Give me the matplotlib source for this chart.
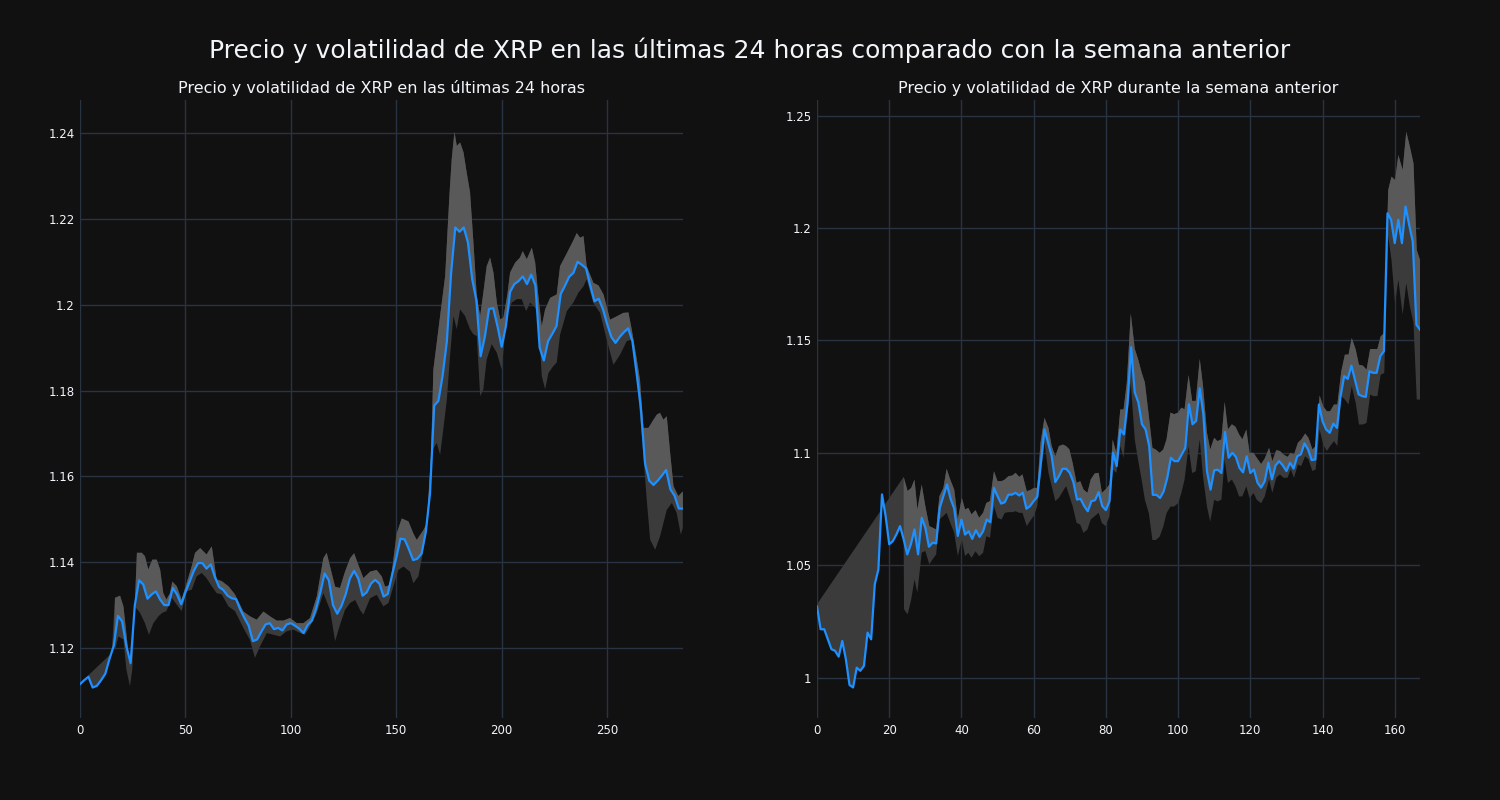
import numpy as np
import matplotlib
matplotlib.use("Agg")
import matplotlib.pyplot as plt
from matplotlib.ticker import FuncFormatter

# ---------------- last 24 hours (5 min steps, every 2nd point read) ----------------
day_x = list(range(0, 287, 2))
day_price = [
    1.1116, 1.1125, 1.1133, 1.1108, 1.1112, 1.1125, 1.1140, 1.1175, 1.1205, 1.1275,
    1.1262, 1.1204, 1.1165, 1.1300, 1.1358, 1.1348, 1.1315, 1.1325, 1.1332, 1.1313,
    1.1300, 1.1300, 1.1340, 1.1325, 1.1302, 1.1330, 1.1355, 1.1380, 1.1398, 1.1398,
    1.1385, 1.1395, 1.1365, 1.1342, 1.1335, 1.1322, 1.1316, 1.1314, 1.1290, 1.1270,
    1.1252, 1.1216, 1.1220, 1.1238, 1.1255, 1.1258, 1.1244, 1.1247, 1.1241, 1.1255,
    1.1258, 1.1252, 1.1245, 1.1235, 1.1254, 1.1264, 1.1292, 1.1330, 1.1374, 1.1358,
    1.1300, 1.1280, 1.1298, 1.1325, 1.1362, 1.1380, 1.1362, 1.1322, 1.1330, 1.1350,
    1.1359, 1.1350, 1.1320, 1.1326, 1.1370, 1.1410, 1.1455, 1.1453, 1.1430, 1.1405,
    1.1408, 1.1420, 1.1470, 1.1560, 1.1765, 1.1776, 1.1835, 1.1915, 1.2073, 1.2180,
    1.2170, 1.2180, 1.2145, 1.2060, 1.2010, 1.1880, 1.1925, 1.1990, 1.1992, 1.1950,
    1.1902, 1.1950, 1.2030, 1.2048, 1.2055, 1.2066, 1.2048, 1.2070, 1.2045, 1.1900,
    1.1870, 1.1915, 1.1932, 1.1950, 1.2025, 1.2044, 1.2065, 1.2074, 1.2100, 1.2093,
    1.2085, 1.2045, 1.2008, 1.2014, 1.1990, 1.1955, 1.1925, 1.1911, 1.1925, 1.1936,
    1.1945, 1.1915, 1.1840, 1.1760, 1.1630, 1.1590, 1.1580, 1.1590, 1.1602, 1.1615,
    1.1570, 1.1555, 1.1525, 1.1525]

day_up_x = [0, 15, 16.6, 19, 20.6, 22, 23.7, 25.3, 27, 29.3, 30.8, 32.4, 34.3, 36.4, 38,
            39.5, 41, 42.7, 43.8, 45.9, 48.2, 50.6, 53, 54.6, 57, 60, 62.5, 64.8, 67.2, 70.4,
            73.5, 77.5, 80.6, 83.8, 87, 90.1, 93.3, 96.5, 99.6, 102.8, 106, 109.1, 112.3, 115.4,
            117, 118.6, 121, 123.3, 125.7, 128.1, 130, 132, 134.4, 137.6, 140.7, 143.1, 144.7,
            147.1, 150.2, 152.6, 155.8, 158.1, 159.7, 162.9, 164.5, 166.5, 167.6, 170.8, 173.2,
            175.2, 176.3, 177.6, 178.7, 180.3, 181.9, 183.4, 185, 186.6, 188.2, 189.8, 191.3,
            192.9, 194.5, 196.1, 197.7, 199.3, 200.8, 202.7, 204, 206.4, 208.7, 210, 211.9,
            214.3, 215.9, 217.4, 219, 220.6, 223, 226.1, 227.7, 230.9, 234, 235.6, 237.2, 238.8,
            240.3, 243.5, 245.9, 248.3, 251.4, 254.6, 257.7, 260.1, 261.7, 264.1, 265.6, 267.2,
            269.6, 272, 273.6, 275.1, 276.7, 278.3, 279.9, 281.5, 283.8, 285.9]
day_up_y = [1.1118, 1.1188, 1.1317, 1.1322, 1.1297, 1.1234, 1.1148, 1.1218, 1.1422, 1.1422,
            1.1414, 1.1383, 1.1406, 1.1406, 1.1383, 1.1328, 1.1313, 1.1328, 1.1355, 1.1344,
            1.1313, 1.1352, 1.1391, 1.1422, 1.1433, 1.1418, 1.1437, 1.1360, 1.1356, 1.1344,
            1.1325, 1.1285, 1.1274, 1.1266, 1.1285, 1.1274, 1.1264, 1.1264, 1.1270, 1.1258,
            1.1258, 1.1270, 1.1320, 1.1409, 1.1422, 1.1390, 1.1343, 1.1340, 1.1378, 1.1409,
            1.1421, 1.1394, 1.1363, 1.1378, 1.1382, 1.1367, 1.1343, 1.1347, 1.1467, 1.1502,
            1.1495, 1.1467, 1.1452, 1.1475, 1.1491, 1.1650, 1.1849, 1.1974, 1.2067, 1.2254,
            1.2339, 1.2403, 1.2370, 1.2378, 1.2355, 1.2308, 1.2262, 1.2145, 1.2020, 1.1974,
            1.2028, 1.2090, 1.2110, 1.2075, 1.2005, 1.1966, 1.1970, 1.2024, 1.2075, 1.2098,
            1.2110, 1.2125, 1.2106, 1.2133, 1.2098, 1.2020, 1.1950, 1.1989, 1.2016, 1.2024,
            1.2090, 1.2120, 1.2150, 1.2167, 1.2156, 1.2160, 1.2090, 1.2051, 1.2045, 1.2024,
            1.1965, 1.1973, 1.1981, 1.1982, 1.1942, 1.1872, 1.1825, 1.1713, 1.1713, 1.1732,
            1.1744, 1.1748, 1.1732, 1.1740, 1.1655, 1.1577, 1.1554, 1.1565]

day_lo_x = [16.6, 18.2, 20.6, 22, 23.7, 24.8, 26, 28.5, 30.8, 32.7, 34.8, 37.2, 39, 41, 43.5,
            45.9, 48.2, 50.6, 53, 55.3, 57.7, 60, 62.5, 64.8, 67.2, 70.4, 73.5, 77.5, 80.6, 83,
            85.4, 88.6, 91.7, 94.9, 98, 101.2, 104.4, 106.7, 109.1, 112.3, 115.4, 118.6, 121,
            123.3, 125.7, 128.1, 130.5, 132.8, 134.4, 137.6, 140.7, 143.9, 146.3, 148.6, 151,
            153.4, 156.5, 158.1, 160.5, 162.9, 165.2, 167, 169.2, 170.8, 172.3, 174, 175.5,
            177.1, 178.7, 180.3, 182.6, 185, 186.6, 188.2, 189.8, 191.3, 192.9, 195.3, 197.7,
            200, 202.4, 204.8, 207.2, 209.5, 211.6, 213.5, 215.9, 217.4, 219, 220.6, 222.2,
            224.5, 226.1, 227.7, 230.9, 234, 236.4, 238.8, 240.3, 243.5, 246.7, 249.8, 253,
            256.2, 259.3, 261.7, 264.1, 266.4, 268.8, 270.4, 272.8, 275.1, 278.3, 280.7, 283,
            285, 285.9]
day_lo_y = [1.1196, 1.1227, 1.1220, 1.1150, 1.1111, 1.1150, 1.1297, 1.1282, 1.1258, 1.1231,
            1.1258, 1.1274, 1.1282, 1.1286, 1.1317, 1.1301, 1.1286, 1.1332, 1.1336, 1.1367,
            1.1375, 1.1363, 1.1344, 1.1328, 1.1325, 1.1297, 1.1286, 1.1247, 1.1219, 1.1177,
            1.1204, 1.1235, 1.1231, 1.1227, 1.1239, 1.1243, 1.1235, 1.1231, 1.1250, 1.1281,
            1.1328, 1.1289, 1.1216, 1.1254, 1.1289, 1.1305, 1.1312, 1.1289, 1.1278, 1.1316,
            1.1324, 1.1297, 1.1305, 1.1343, 1.1382, 1.1390, 1.1378, 1.1351, 1.1367, 1.1429,
            1.1506, 1.1660, 1.1678, 1.1650, 1.1709, 1.1779, 1.1880, 1.1974, 1.1943, 1.1989,
            1.1974, 1.1943, 1.1931, 1.1927, 1.1787, 1.1803, 1.1873, 1.1908, 1.1888, 1.1849,
            1.1974, 1.2005, 1.2013, 1.2013, 1.1985, 1.2005, 1.1993, 1.1974, 1.1834, 1.1803,
            1.1841, 1.1857, 1.1865, 1.1930, 1.1985, 1.2005, 1.2028, 1.2043, 1.2059, 1.2004,
            1.1981, 1.1919, 1.1860, 1.1884, 1.1915, 1.1919, 1.1825, 1.1701, 1.1546, 1.1453,
            1.1429, 1.1460, 1.1522, 1.1538, 1.1515, 1.1464, 1.1480]

# ---------------- previous week (hourly) ----------------
week_x = list(range(0, 168))
week_price = [
    1.0316, 1.0215, 1.0215, 1.0170, 1.0126, 1.0119, 1.0093, 1.0163, 1.0081, 0.9967,
    0.9956, 1.0044, 1.0030, 1.0052, 1.0200, 1.0170, 1.0415, 1.0481, 1.0815, 1.0719,
    1.0593, 1.0607, 1.0637, 1.0674, 1.0615, 1.0548, 1.0593, 1.0659, 1.0548, 1.0711,
    1.0667, 1.0582, 1.0600, 1.0597, 1.0756, 1.0807, 1.0859, 1.0795, 1.0752, 1.0630,
    1.0703, 1.0636, 1.0651, 1.0617, 1.0656, 1.0626, 1.0651, 1.0703, 1.0691, 1.0844,
    1.0807, 1.0774, 1.0780, 1.0814, 1.0814, 1.0822, 1.0810, 1.0822, 1.0751, 1.0763,
    1.0785, 1.0804, 1.0955, 1.1104, 1.1045, 1.0985, 1.0870, 1.0896, 1.0929, 1.0929,
    1.0911, 1.0870, 1.0792, 1.0795, 1.0763, 1.0740, 1.0785, 1.0789, 1.0825, 1.0763,
    1.0745, 1.0785, 1.1000, 1.0941, 1.1104, 1.1082, 1.1223, 1.1470, 1.1269, 1.1224,
    1.1127, 1.1104, 1.1030, 1.0813, 1.0813, 1.0799, 1.0828, 1.0888, 1.0978, 1.0963,
    1.0963, 1.0993, 1.1022, 1.1216, 1.1127, 1.1142, 1.1287, 1.1172, 1.0918, 1.0836,
    1.0922, 1.0925, 1.0910, 1.1093, 1.0978, 1.1000, 1.0982, 1.0933, 1.0913, 1.0985,
    1.0910, 1.0926, 1.0867, 1.0845, 1.0874, 1.0956, 1.0882, 1.0944, 1.0963, 1.0944,
    1.0919, 1.0956, 1.0930, 1.0985, 1.0993, 1.1042, 1.1015, 1.0968, 1.0970, 1.1215,
    1.1141, 1.1104, 1.1089, 1.1130, 1.1111, 1.1252, 1.1341, 1.1329, 1.1388, 1.1323,
    1.1260, 1.1252, 1.1249, 1.1363, 1.1356, 1.1356, 1.1430, 1.1452, 1.2066, 1.2037,
    1.1933, 1.2037, 1.1933, 1.2096, 1.2014, 1.1940, 1.1570, 1.1548]

week_up_x = [0, 24, 25.1, 26.1, 27, 27.8, 29, 30, 31.1, 32, 33, 33.9, 35, 35.9, 36.9, 38, 39,
             40.1, 41, 41.9, 42.8, 43.9, 44.9, 46, 46.9, 47.9, 49, 50, 51.1, 52, 53, 54.1, 55,
             56, 56.9, 58.1, 59, 60.1, 61, 61.9, 63, 64.1, 65, 66, 67, 68.1, 69, 69.9, 70.8,
             71.9, 72.9, 73.8, 74.9, 75.8, 76.9, 78, 78.9, 79.9, 81, 81.9, 82.9, 84, 84.9, 85.8,
             86.9, 88, 88.9, 89.9, 90.8, 91.9, 92.9, 93.8, 94.9, 95.9, 96.8, 97.9, 98.9, 100,
             100.9, 101.8, 102.9, 103.9, 104.9, 106, 106.9, 108, 108.9, 110, 110.9, 112, 112.9,
             113.8, 114.9, 115.9, 116.9, 117.8, 118.9, 119.8, 120.9, 121.8, 123, 124, 125.2,
             126.1, 127.2, 128.2, 129.2, 130.3, 131.2, 132.1, 133.2, 134.1, 135.2, 136.1, 137.2,
             138.1, 139.2, 140.2, 141.2, 142.1, 143.2, 144.1, 145.2, 146.2, 147.2, 148.1, 149.2,
             150.1, 151.2, 152.2, 153.2, 154.1, 155.2, 156.1, 157.1, 158.2, 159.1, 160.1, 161,
             162.2, 163.2, 164.2, 165.2, 166.1, 167]
week_up_y = [1.0326, 1.0893, 1.0830, 1.0844, 1.0881, 1.0748, 1.0859, 1.0763, 1.0674, 1.0667,
             1.0659, 1.0807, 1.0844, 1.0929, 1.0881, 1.0837, 1.0704, 1.0800, 1.0748, 1.0755,
             1.0726, 1.0745, 1.0711, 1.0733, 1.0777, 1.0785, 1.0918, 1.0874, 1.0874, 1.0881,
             1.0896, 1.0899, 1.0911, 1.0893, 1.0904, 1.0829, 1.0834, 1.0844, 1.0844, 1.1045,
             1.1156, 1.1111, 1.1030, 1.0985, 1.1030, 1.1037, 1.1030, 1.1015, 1.0955, 1.0866,
             1.0874, 1.0837, 1.0822, 1.0881, 1.0908, 1.0911, 1.0822, 1.0837, 1.0859, 1.1059,
             1.1000, 1.1193, 1.1193, 1.1312, 1.1620, 1.1463, 1.1418, 1.1358, 1.1313, 1.1164,
             1.1022, 1.1015, 1.1000, 1.1015, 1.1060, 1.1179, 1.1172, 1.1179, 1.1201, 1.1194,
             1.1346, 1.1231, 1.1231, 1.1418, 1.1299, 1.1090, 1.1015, 1.1067, 1.1052, 1.1060,
             1.1227, 1.1104, 1.1127, 1.1116, 1.1082, 1.1060, 1.1104, 1.1000, 1.1000, 1.0978,
             1.0950, 1.0975, 1.1022, 1.0963, 1.1012, 1.1008, 1.0993, 1.0982, 1.1000, 1.0993,
             1.1045, 1.1059, 1.1086, 1.1067, 1.1015, 1.1030, 1.1255, 1.1207, 1.1185, 1.1185,
             1.1215, 1.1215, 1.1363, 1.1437, 1.1437, 1.1511, 1.1459, 1.1392, 1.1388, 1.1370,
             1.1462, 1.1462, 1.1462, 1.1518, 1.1533, 1.2170, 1.2229, 1.2214, 1.2325, 1.2259,
             1.2429, 1.2362, 1.2288, 1.1903, 1.1859]

week_lo_x = week_up_x[1:].copy()
week_lo_x[0] = 24.1
week_lo_y = [1.0304, 1.0281, 1.0348, 1.0437, 1.0378, 1.0556, 1.0563, 1.0504, 1.0526,
             1.0548, 1.0704, 1.0719, 1.0733, 1.0689, 1.0644, 1.0541, 1.0615, 1.0541, 1.0555,
             1.0533, 1.0562, 1.0540, 1.0555, 1.0629, 1.0622, 1.0763, 1.0711, 1.0703, 1.0733,
             1.0736, 1.0736, 1.0740, 1.0733, 1.0733, 1.0674, 1.0696, 1.0721, 1.0763, 1.0896,
             1.1045, 1.0911, 1.0852, 1.0785, 1.0800, 1.0829, 1.0852, 1.0807, 1.0763, 1.0688,
             1.0681, 1.0644, 1.0659, 1.0703, 1.0718, 1.0733, 1.0688, 1.0674, 1.0718, 1.0926,
             1.0911, 1.1030, 1.0978, 1.1134, 1.1310, 1.1060, 1.0970, 1.0881, 1.0791, 1.0731,
             1.0612, 1.0612, 1.0627, 1.0672, 1.0731, 1.0761, 1.0761, 1.0776, 1.0821, 1.0881,
             1.1030, 1.0910, 1.0918, 1.1060, 1.0896, 1.0761, 1.0694, 1.0791, 1.0784, 1.0791,
             1.0970, 1.0866, 1.0881, 1.0851, 1.0806, 1.0806, 1.0851, 1.0799, 1.0821, 1.0791,
             1.0776, 1.0806, 1.0882, 1.0822, 1.0889, 1.0904, 1.0889, 1.0889, 1.0926, 1.0889,
             1.0948, 1.0941, 1.0985, 1.0971, 1.0919, 1.0926, 1.1104, 1.1037, 1.1008, 1.1030,
             1.1052, 1.1030, 1.1252, 1.1237, 1.1215, 1.1296, 1.1222, 1.1126, 1.1126, 1.1133,
             1.1259, 1.1252, 1.1252, 1.1348, 1.1355, 1.1963, 1.1859, 1.1666, 1.1770, 1.1615,
             1.1755, 1.1652, 1.1578, 1.1237, 1.1237]

BG = "#111111"
GRID = "#283442"
TXT = "#f2f5fa"
BLUE = "#1e90ff"
DARK = "#3b3b3b"
LIGHT = "#595959"

fig = plt.figure(figsize=(15, 8), dpi=100, facecolor=BG)


def panel(ax, x, price, up_x, up_y, lo_x, lo_y, light_from, title):
    x = np.array(x)
    price = np.array(price)
    up_x = np.array(up_x)
    up_y = np.array(up_y)
    # band: upper edge, lower edge back, closed along the price where no lower value exists
    m = x <= lo_x[0]
    ax.fill(np.r_[up_x, lo_x[::-1], x[m][::-1]], np.r_[up_y, lo_y[::-1], price[m][::-1]],
            color=DARK, lw=0, zorder=2)
    # lighter part between price and upper edge
    k = up_x >= light_from
    n = x >= light_from
    ax.fill(np.r_[up_x[k], x[n][::-1]], np.r_[up_y[k], price[n][::-1]],
            color=LIGHT, lw=0, zorder=3)
    ax.plot(x, price, color=BLUE, lw=1.6, zorder=4)
    ax.set_facecolor(BG)
    for s in ax.spines.values():
        s.set_visible(False)
    ax.grid(True, color=GRID, lw=1, zorder=0)
    ax.set_axisbelow(True)
    ax.tick_params(colors=TXT, labelsize=8.5, length=0, pad=4)
    ax.yaxis.set_major_formatter(FuncFormatter(lambda v, p: "%g" % round(v, 4)))
    ax.set_title(title, color=TXT, fontsize=11.5, pad=5)


ax1 = fig.add_axes([80 / 1500, 82 / 800, 603 / 1500, 618 / 800])
panel(ax1, day_x, day_price, day_up_x, day_up_y, day_lo_x, day_lo_y, 16,
      "Precio y volatilidad de XRP en las últimas 24 horas")
ax1.set_xlim(0, 286)
ax1.set_ylim(1.1037, 1.2477)
ax1.set_xticks([0, 50, 100, 150, 200, 250])
ax1.set_yticks(np.arange(1.12, 1.2401, 0.02))

ax2 = fig.add_axes([817 / 1500, 82 / 800, 603 / 1500, 618 / 800])
panel(ax2, week_x, week_price, week_up_x, week_up_y, week_lo_x, week_lo_y, 24,
      "Precio y volatilidad de XRP durante la semana anterior")
ax2.set_xlim(0, 167)
ax2.set_ylim(0.982, 1.257)
ax2.set_xticks([0, 20, 40, 60, 80, 100, 120, 140, 160])
ax2.set_yticks([1.0, 1.05, 1.1, 1.15, 1.2, 1.25])

fig.suptitle("Precio y volatilidad de XRP en las últimas 24 horas comparado con la semana anterior",
             color=TXT, fontsize=18, y=1 - 50 / 800, va="center")

plt.savefig("out.png", dpi=100, facecolor=BG)
